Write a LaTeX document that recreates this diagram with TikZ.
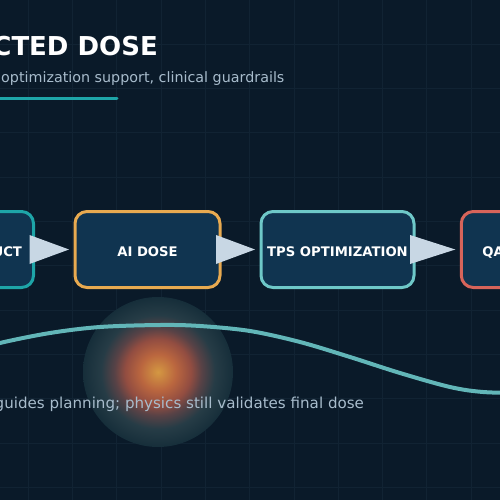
\documentclass[tikz,border=0pt]{standalone}
\usepackage{fontspec}
\setmainfont{DejaVu Sans}

\definecolor{bgnavy}{RGB}{10,26,41}
\definecolor{gridnavy}{RGB}{17,35,51}
\definecolor{boxfill}{RGB}{16,52,80}
\definecolor{tealdeep}{RGB}{30,165,168}
\definecolor{amber}{RGB}{232,170,80}
\definecolor{tealsoft}{RGB}{110,200,200}
\definecolor{coral}{RGB}{215,100,90}
\definecolor{arrowpale}{RGB}{200,215,228}
\definecolor{subgray}{RGB}{168,188,204}
\definecolor{wavecol}{RGB}{98,182,184}
\definecolor{glowcore}{RGB}{212,152,66}
\definecolor{glowwarm}{RGB}{186,102,63}
\definecolor{glowred}{RGB}{146,77,65}
\definecolor{glowmid}{RGB}{88,66,70}
\definecolor{glowhaze}{RGB}{38,60,70}
\definecolor{glowrim}{RGB}{22,46,58}

\pgfdeclareradialshading{doseglow}{\pgfpoint{0bp}{0bp}}{color(0bp)=(glowcore); color(6bp)=(glowwarm); color(11bp)=(glowred); color(14.5bp)=(glowmid); color(19bp)=(glowhaze); color(25bp)=(glowrim); color(50bp)=(glowrim)}

\begin{document}
\begin{tikzpicture}[x=1pt, y=-1pt,
	flowbox/.style={rectangle, line width=3pt, rounded corners=12pt, fill=boxfill, text=white, font=\bfseries\fontsize{13.2}{15}\selectfont, minimum height=76pt, inner sep=0pt, outer sep=0pt, text height=13.5pt, text depth=0pt},
	flowtip/.style={fill=arrowpale},
	wave/.style={draw=wavecol, line width=4pt, line cap=round},
	gridline/.style={draw=gridnavy, line width=1pt},
	titletext/.style={text=white, font=\bfseries\fontsize{26}{30}\selectfont, inner sep=0pt},
	subtext/.style={text=subgray, font=\fontsize{14.3}{17}\selectfont, inner sep=0pt},
	captext/.style={text=subgray, font=\fontsize{15.1}{18}\selectfont, inner sep=0pt},
	accentbar/.style={draw=tealdeep, line width=3pt, line cap=round}]
	% 1. 画布与深色背景
	\useasboundingbox (0,0) rectangle (500,500);
	\fill[bgnavy] (0,0) rectangle (500,500);
	
	% 2. 背景网格 (淡色细线)
	\foreach \gx in {0,...,10}
		\draw[gridline] ({28.2+44.3*\gx},0) -- ++(0,500);
	\foreach \gy in {1,...,11}
		\draw[gridline] (0,{44.3*\gy}) -- ++(500,0);
	
	% 3. 标题、副标题与强调线
	\node[titletext, anchor=base east] (title) at (158,56) {CTED DOSE};
	\node[subtext, anchor=base west] (subtitle) at (1,83) {optimization support, clinical guardrails};
	\draw[accentbar] (-5,99) -- (117,99);
	
	% 4. 剂量光斑 (径向渐变)
	\shade[shading=doseglow] (158,372) circle (75pt);
	
	% 5. 流程框
	\node[flowbox, draw=tealdeep, minimum width=152pt, text width=129pt, align=right] (struct) at (-42.5,249.5) {UCT};
	\node[flowbox, draw=amber, minimum width=145pt] (aidose) at (147.5,249.5) {AI DOSE};
	\node[flowbox, draw=tealsoft, minimum width=153pt] (tps) at (337.5,249.5) {TPS OPTIMIZATION};
	\node[flowbox, draw=coral, minimum width=150pt, text width=108pt, align=left] (qa) at (536.3,249.5) {QA};
	
	% 三角箭头 (压在左侧框的边线上)
	\foreach \from/\to in {struct/aidose, aidose/tps, tps/qa}
		\fill[flowtip] ([xshift=-4pt, yshift=14.5pt]\from.east) -- ([xshift=-6pt]\to.west) -- ([xshift=-4pt, yshift=-14.5pt]\from.east) -- cycle;
	
	% 6. 波形曲线
	\draw[wave] plot[smooth, tension=0.55] coordinates {(-20,350) (0,343) (50,333) (100,327) (160,325) (200,326) (250,331) (300,342) (350,357) (400,373) (450,387) (483,392) (520,393)};
	
	% 7. 底部说明文字
	\node[captext, anchor=base west] (caption) at (-5.5,408) {guides planning; physics still validates final dose};
\end{tikzpicture}
\end{document}
